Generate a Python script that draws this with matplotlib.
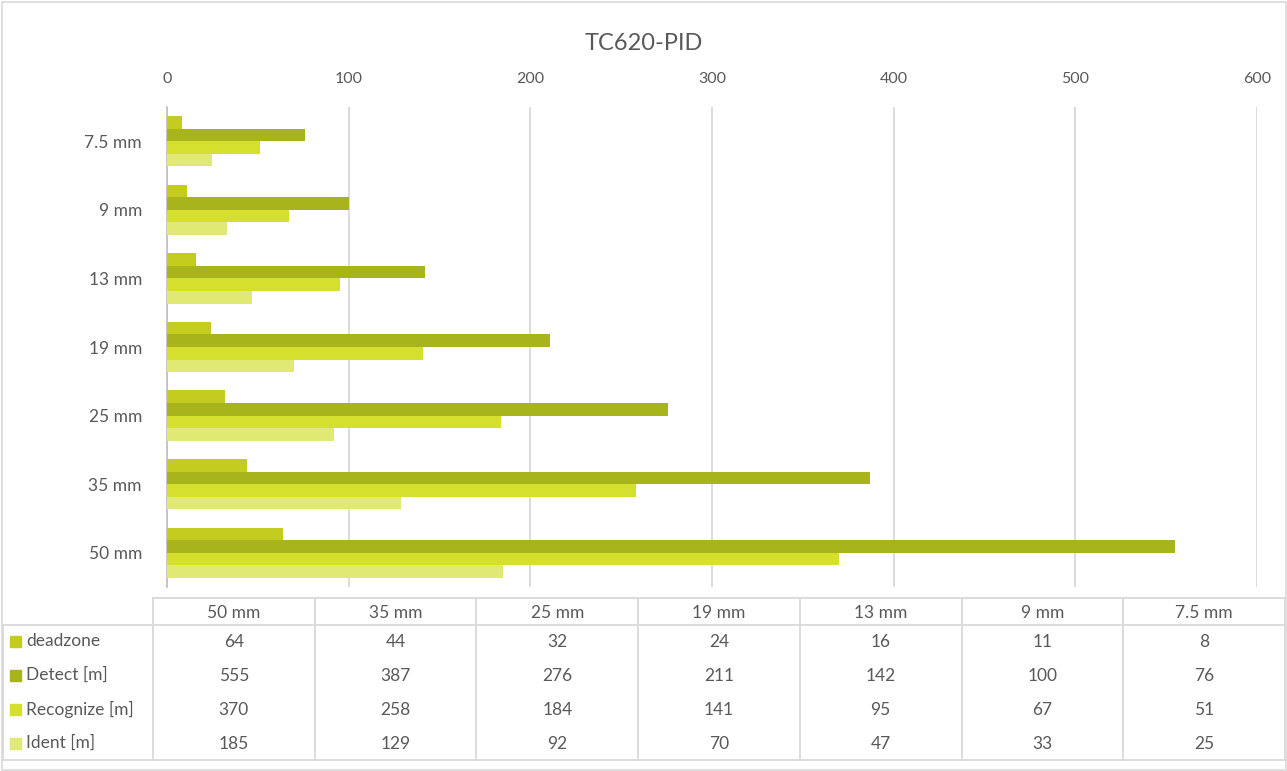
import matplotlib
matplotlib.use("Agg")
import matplotlib.pyplot as plt
from matplotlib.patches import Rectangle
import numpy as np

plt.rcParams['font.family'] = ['Lato', 'DejaVu Sans']

title = "TC620-PID"
categories = ['50 mm', '35 mm', '25 mm', '19 mm', '13 mm', '9 mm', '7.5 mm']
series_names = ['deadzone', 'Detect [m]', 'Recognize [m]', 'Ident [m]']
deadzone = [64, 44, 32, 24, 16, 11, 8]
detect = [555, 387, 276, 211, 142, 100, 76]
recognize = [370, 258, 184, 141, 95, 67, 51]
ident = [185, 129, 92, 70, 47, 33, 25]
series = [deadzone, detect, recognize, ident]
colors = ['#C3CC1F', '#A8B41B', '#D4E02D', '#E1E975']
xticks = [0, 100, 200, 300, 400, 500, 600]

W, H = 1287, 771
fig = plt.figure(figsize=(W / 100, H / 100), dpi=100)
txt = '#595959'
grid = '#D9D9D9'

# background / overlay axes in pixel coordinates
bg = fig.add_axes([0, 0, 1, 1])
bg.set_xlim(0, W)
bg.set_ylim(H, 0)
bg.axis('off')
bg.add_patch(Rectangle((1.5, 1.5), W - 3, H - 3, fill=False, ec='#D9D9D9', lw=1.2))

# main plot
px0, px1, py0, py1 = 167, 1257, 107, 587
ax = fig.add_axes([px0 / W, 1 - py1 / H, (px1 - px0) / W, (py1 - py0) / H])
n = len(categories)
y = np.arange(n)
h = 0.183
offsets = [1.5 * h, 0.5 * h, -0.5 * h, -1.5 * h]
for vals, off, c, name in zip(series, offsets, colors, series_names):
    ax.barh(y + off, vals, height=h, color=c, label=name, zorder=3)
ax.set_xlim(0, 600)
ax.set_ylim(-0.5, n - 0.5)
ax.set_xticks(xticks)
ax.xaxis.tick_top()
ax.tick_params(axis='x', length=0, labelsize=11.5, labelcolor=txt, pad=15)
ax.set_yticks(y)
ax.set_yticklabels(categories)
ax.tick_params(axis='y', length=0, labelsize=12.5, labelcolor=txt, pad=18)
ax.grid(axis='x', color=grid, lw=1.3, zorder=0)
for s in ['top', 'right', 'bottom']:
    ax.spines[s].set_visible(False)
ax.spines['left'].set_color('#BFBFBF')
ax.spines['left'].set_linewidth(1.2)
ax.set_facecolor('none')

fig.text(0.5, 1 - 43 / H, title, ha='center', va='center', fontsize=17, color=txt)

# data table
col_x = np.linspace(153, 1285, n + 1)
y_top, y_head, y_bot = 598, 625, 760
row_y = [641, 675, 709, 743]
lc = '#D9D9D9'
bg.plot([col_x[0], col_x[-1]], [y_top, y_top], color=lc, lw=1.3)
bg.plot([3, col_x[-1]], [y_head, y_head], color=lc, lw=1.3)
bg.plot([3, col_x[-1]], [y_bot, y_bot], color=lc, lw=1.3)
bg.plot([3, 3], [y_head, y_bot], color=lc, lw=1.3)
for cx in col_x:
    bg.plot([cx, cx], [y_top, y_bot], color=lc, lw=1.3)
for i, cat in enumerate(categories):
    cx = (col_x[i] + col_x[i + 1]) / 2
    bg.text(cx, (y_top + y_head) / 2 + 1, cat, ha='center', va='center', fontsize=12.5, color=txt)
for r, (vals, c, name) in enumerate(zip(series, colors, series_names)):
    ry = row_y[r]
    bg.add_patch(Rectangle((10, ry - 5.5), 11, 11, color=c))
    bg.text(26, ry, name, ha='left', va='center', fontsize=12.5, color=txt)
    for i, v in enumerate(vals):
        cx = (col_x[i] + col_x[i + 1]) / 2
        bg.text(cx, ry + 1, str(v), ha='center', va='center', fontsize=12.5, color=txt)

fig.savefig('out.png', dpi=100, facecolor='white')
